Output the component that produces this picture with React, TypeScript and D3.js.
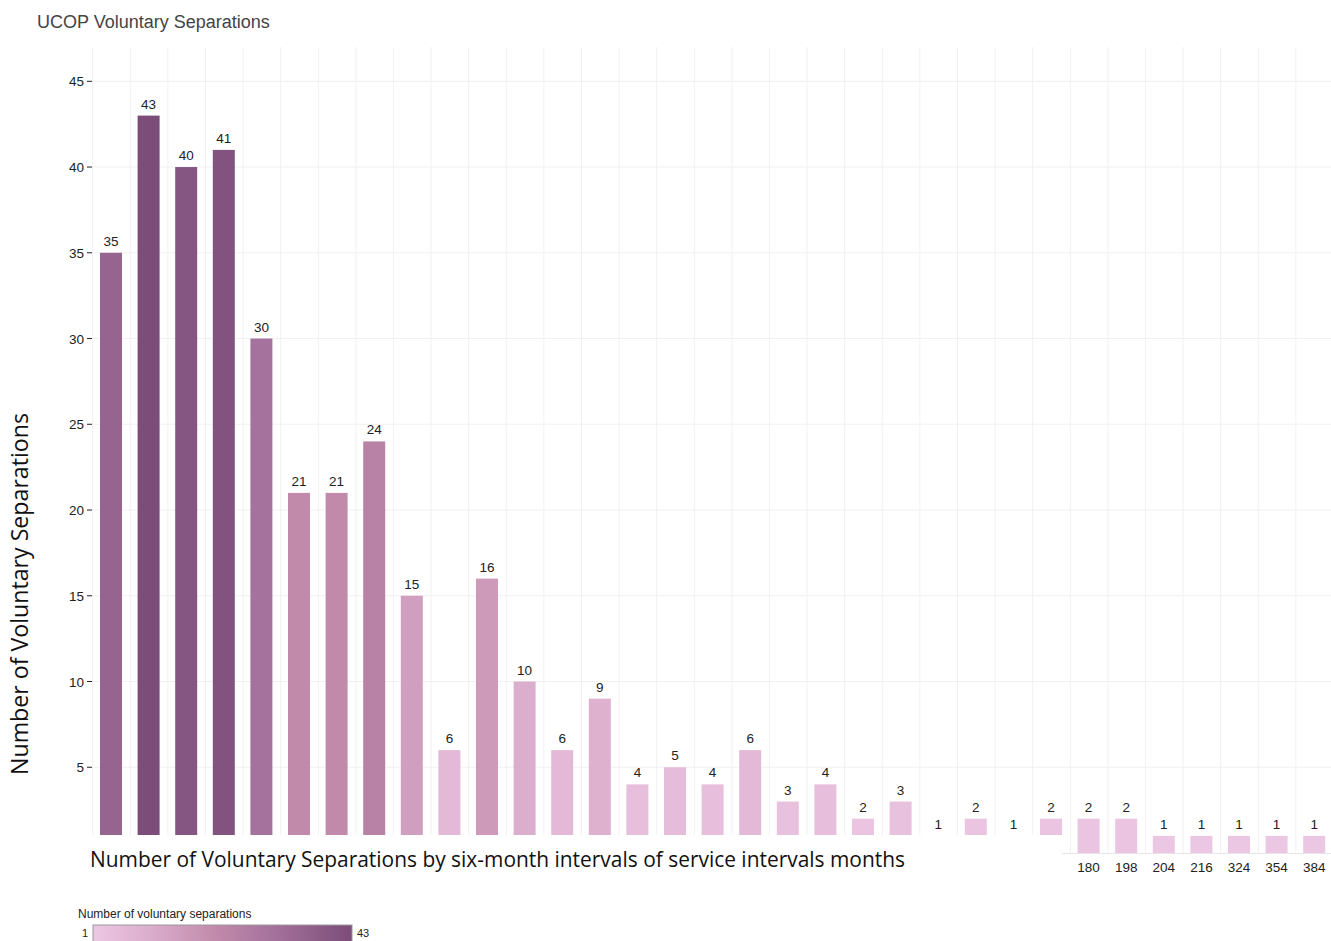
import React from "react";
import * as d3 from "d3";

const months: string[] = [
  "0", "6", "12", "18", "24", "30", "36", "42", "48", "54", "60", "66", "72",
  "78", "84", "90", "96", "102", "108", "114", "120", "126", "132", "144",
  "156", "168", "180", "198", "204", "216", "324", "354", "384",
];
const separations: number[] = [
  35, 43, 40, 41, 30, 21, 21, 24, 15, 6, 16, 10, 6, 9, 4, 5, 4, 6, 3, 4, 2, 3,
  1, 2, 1, 2, 2, 2, 1, 1, 1, 1, 1,
];
const yTicks: number[] = [5, 10, 15, 20, 25, 30, 35, 40, 45];
const colorStops: number[] = [1, 10, 21, 30, 43];
const colorValues: string[] = ["#ecc7e3", "#dcaecd", "#c18aab", "#a5729d", "#7b4d78"];

const W = 1331;
const H = 941;
const plotLeft = 92.2;
const plotRight = 1333;
const plotTop = 47;
const plotBottom = 853;
const coverRight = 1062;

export default function App() {
  const x = d3.scaleBand<string>().domain(months).range([plotLeft, plotRight]).padding(0);
  const y = d3.scaleLinear().domain([0, 47]).range([plotBottom, plotTop]);
  const color = d3.scaleLinear<string>().domain(colorStops).range(colorValues).interpolate(d3.interpolateRgb);
  const bw = x.bandwidth() * 0.585;
  const fontSans = "'Liberation Sans', Arial, sans-serif";

  const legendX0 = 93;
  const legendX1 = 352;
  const legendScale = d3.scaleLinear().domain([1, 43]).range([0, 1]);

  return (
    <svg width={W} height={H} style={{ position: "absolute", left: 0, top: 0, background: "#fff" }} fontFamily={fontSans}>
      <defs>
        <linearGradient id="cb" x1="0" x2="1" y1="0" y2="0">
          {colorStops.map((v, i) => (
            <stop key={i} offset={legendScale(v)} stopColor={colorValues[i]} />
          ))}
        </linearGradient>
        <clipPath id="tickclip">
          <rect x={coverRight} y={835} width={W - coverRight} height={60} />
        </clipPath>
      </defs>
      <rect x={0} y={0} width={W} height={H} fill="#fff" />
      {/* title */}
      <text x={37} y={28} fontSize={18} fill="#444">UCOP Voluntary Separations</text>

      {/* gridlines */}
      {yTicks.map((t) => (
        <line key={"h" + t} x1={plotLeft} x2={W} y1={y(t)} y2={y(t)} stroke="#f1f1f1" strokeWidth={1} />
      ))}
      {months.map((m) => (
        <line key={"v" + m} x1={(x(m) as number) + 0.5} x2={(x(m) as number) + 0.5} y1={plotTop} y2={plotBottom} stroke="#f1f1f1" strokeWidth={1} />
      ))}
      <line x1={plotLeft} x2={W} y1={plotBottom + 0.5} y2={plotBottom + 0.5} stroke="#e6e6e6" />

      {/* y ticks */}
      {yTicks.map((t) => (
        <g key={"t" + t}>
          <line x1={87} x2={92} y1={y(t)} y2={y(t)} stroke="#222" strokeWidth={1} />
          <text x={84} y={y(t) + 5} fontSize={13.5} textAnchor="end" fill="#222">{t}</text>
        </g>
      ))}

      {/* bars */}
      {months.map((m, i) => {
        const cx = (x(m) as number) + x.bandwidth() / 2;
        const v = separations[i];
        return (
          <g key={"b" + m}>
            <rect x={cx - bw / 2} y={y(v)} width={bw} height={plotBottom - y(v)} fill={color(v)} />
            <text x={cx} y={y(v) - 7} fontSize={13.5} textAnchor="middle" fill="#222">{v}</text>
          </g>
        );
      })}

      {/* cover box over lower-left area */}
      <rect x={0} y={835} width={coverRight} height={H - 835} fill="#fff" />

      {/* visible x tick labels (the rest are hidden under the cover) */}
      <g clipPath="url(#tickclip)">
        {months.map((m) => {
          const cx = (x(m) as number) + x.bandwidth() / 2;
          if (cx + 14 < coverRight) return null;
          return (
            <text key={"x" + m} x={cx} y={872} fontSize={13.5} textAnchor="middle" fill="#222">{m}</text>
          );
        })}
      </g>

      <text x={90} y={867} fontSize={21} fill="#111" fontFamily="'Open Sans', sans-serif" textLength={815} lengthAdjust="spacingAndGlyphs">
        Number of Voluntary Separations by six-month intervals of service intervals months
      </text>

      {/* y axis title */}
      <text transform={`translate(28,594) rotate(-90)`} fontSize={23} textAnchor="middle" fill="#111" fontFamily="'Open Sans', sans-serif" textLength={362} lengthAdjust="spacingAndGlyphs">
        Number of Voluntary Separations
      </text>

      {/* legend */}
      <text x={78} y={918} fontSize={12} fill="#222">Number of voluntary separations</text>
      <rect x={legendX0} y={925} width={legendX1 - legendX0} height={20} fill="url(#cb)" stroke="#999" strokeWidth={1} />
      <text x={88} y={937} fontSize={11} textAnchor="end" fill="#222">1</text>
      <text x={357} y={937} fontSize={11} fill="#222">43</text>
    </svg>
  );
}
